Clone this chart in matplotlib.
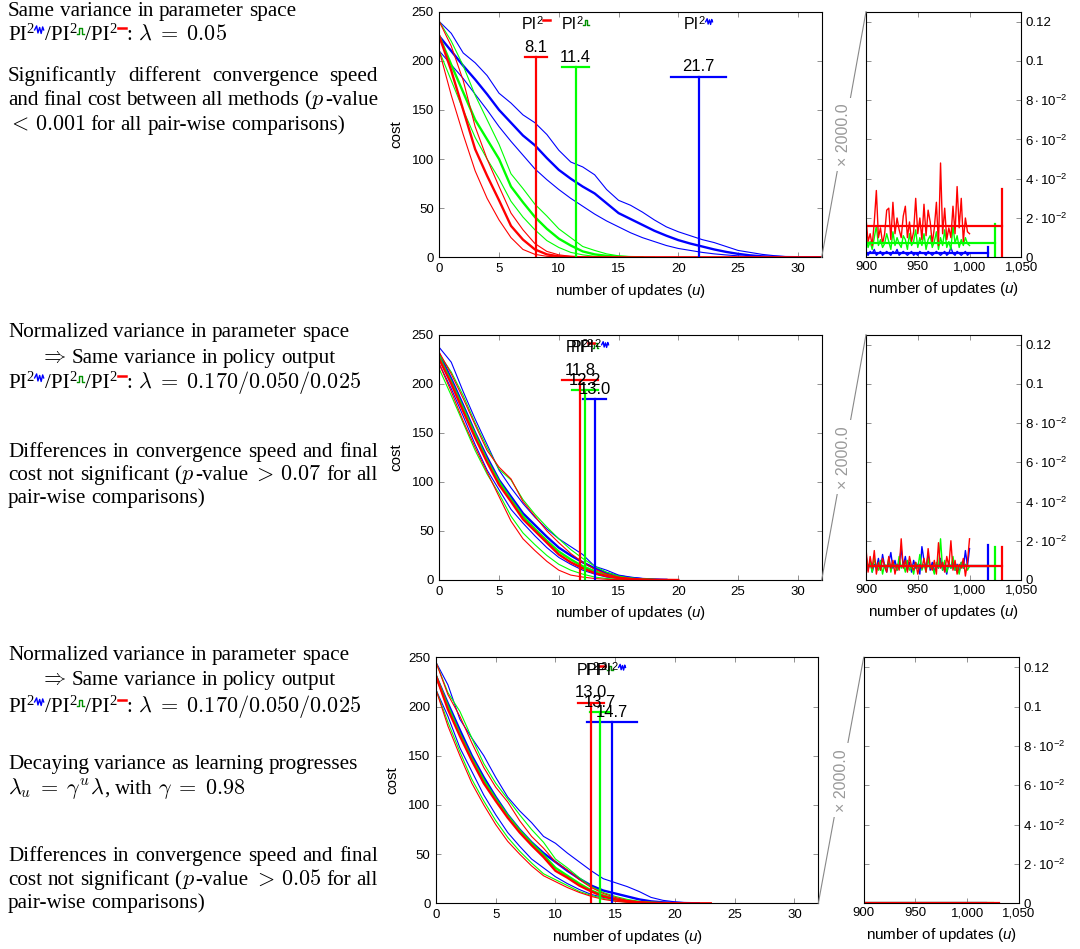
import numpy as np
import matplotlib
matplotlib.use('Agg')
import matplotlib.pyplot as plt
from matplotlib.transforms import IdentityTransform
from matplotlib.lines import Line2D

plt.rcParams['font.family'] = 'Liberation Sans'
plt.rcParams['mathtext.fontset'] = 'custom'
plt.rcParams['mathtext.rm'] = 'Liberation Sans'
plt.rcParams['mathtext.it'] = 'Liberation Sans:italic'

# ---------------- data ----------------
# learning curves, cost per update u = 0, 1, 2, ...
# row 1: same variance in parameter space
c1_blue_lo = [210, 196, 182, 166, 150, 133, 118, 104, 90, 79, 69, 60, 52, 44, 37, 31, 25, 20, 16, 12, 9, 7, 5, 3.5, 2.4, 1.5, 0.8, 0.4, 0.2, 0.1, 0, 0, 0]
c1_blue_md = [225, 210, 195, 181, 166, 150, 137, 124, 114, 101, 89, 80, 72, 65, 55, 45, 39, 33, 27, 22, 17.5, 14, 11, 8, 5.5, 3.5, 2, 1, 0.5, 0.2, 0.1, 0, 0]
c1_blue_hi = [240, 228, 208, 198, 185, 167, 157, 145, 137, 125, 109, 97, 92, 84, 69, 58, 53, 46, 38, 31, 26, 22, 18, 15, 11, 7, 5, 3, 1.7, 0.7, 0.3, 0, 0]
c1_green_lo = [210, 180, 150, 122, 100, 80, 57, 41, 28, 17, 10, 5, 2.5, 1, 0.4, 0, 0]
c1_green_md = [225, 196, 168, 140, 120, 100, 72, 56, 41, 29, 19, 12, 6, 3, 1.5, 0.6, 0.2, 0]
c1_green_hi = [240, 220, 195, 165, 140, 115, 85, 70, 54, 42, 29, 20, 11, 7, 3.5, 1.5, 0.6, 0.2, 0]
c1_red_lo = [210, 165, 125, 88, 60, 38, 20, 8, 3, 1, 0.3, 0, 0]
c1_red_md = [225, 190, 150, 110, 83, 58, 32, 18, 8, 3, 1, 0.4, 0, 0, 0, 0, 0, 0, 0, 0, 0, 0, 0, 0, 0, 0, 0, 0, 0, 0, 0, 0, 0]
c1_red_hi = [240, 215, 180, 133, 100, 72, 45, 28, 14, 6, 2.5, 1, 0.4, 0]

# row 2: normalized variance
c2_blue_lo = [220, 195, 167, 138, 112, 92, 72, 58, 45, 33, 23, 16, 10, 6, 3, 1.5, 0.7, 0.3, 0.1, 0]
c2_blue_md = [230, 205, 178, 150, 125, 102, 85, 68, 56, 44, 33, 25, 18, 12, 7, 4, 2, 1, 0.5, 0.2]
c2_blue_hi = [237, 222, 192, 164, 138, 112, 94, 78, 64, 52, 42, 34, 26, 14, 10, 5, 3, 1.5, 0.7, 0.2]
c2_green_lo = [215, 188, 160, 132, 108, 88, 65, 48, 36, 25, 16, 10, 6, 3, 1.5, 0.7, 0.3, 0.1, 0]
c2_green_md = [227, 202, 175, 148, 122, 100, 82, 65, 52, 40, 29, 21, 14, 9, 5, 2.5, 1.2, 0.5, 0.2]
c2_green_hi = [230, 212, 188, 160, 135, 113, 102, 82, 67, 54, 42, 31, 22, 14, 8, 4, 2, 1, 0.4]
c2_red_lo = [220, 192, 162, 135, 110, 85, 60, 42, 30, 19, 10, 5, 3, 1.5, 0.7, 0.3, 0.1, 0]
c2_red_md = [225, 200, 172, 145, 120, 97, 80, 62, 50, 38, 26, 18, 12, 7, 4, 2, 1, 0.5, 0.2, 0.1, 0]
c2_red_hi = [232, 210, 185, 158, 132, 115, 103, 80, 65, 50, 38, 27, 18, 11, 6, 3, 1.5, 0.7, 0.3, 0.1]

# row 3: normalized + decaying variance
c3_blue_lo = [217, 190, 158, 134, 110, 90, 72, 58, 45, 36, 27, 20, 14, 9, 6, 4, 2.5, 1.5, 0.8, 0.3, 0.1, 0]
c3_blue_md = [231, 203, 176, 150, 128, 108, 90, 75, 62, 51, 42, 33, 25, 18, 13, 10, 7, 4, 2, 1, 0.5, 0.2, 0]
c3_blue_hi = [245, 222, 187, 168, 150, 128, 108, 94, 82, 68, 61, 51, 42, 33, 25, 21, 17, 12, 6, 3, 1.5, 0.5, 0.2]
c3_green_lo = [217, 184, 154, 126, 104, 84, 67, 53, 41, 30, 24, 18, 12, 8, 5, 2.5, 1.2, 0.5, 0.2, 0.1, 0]
c3_green_md = [231, 200, 172, 147, 125, 106, 89, 74, 61, 49, 36, 28, 20, 13, 8, 4.5, 2.5, 1.2, 0.5, 0.2, 0.1]
c3_green_hi = [245, 214, 195, 168, 142, 122, 106, 90, 75, 62, 45, 36, 26, 17, 11, 7, 4, 2, 1, 0.4, 0.1]
c3_red_lo = [217, 180, 150, 122, 100, 80, 63, 50, 38, 28, 22, 16, 11, 7, 4, 2, 1, 0.5, 0.2, 0.1, 0]
c3_red_md = [231, 197, 170, 145, 122, 104, 87, 72, 59, 47, 33, 26, 18, 12, 7, 4, 2, 1, 0.5, 0.2, 0.1, 0, 0, 0]
c3_red_hi = [245, 212, 190, 163, 138, 118, 103, 84, 68, 56, 42, 34, 24, 16, 10, 6, 3, 1.5, 0.7, 0.3, 0.1, 0]

# updates until convergence (mean, spread), order: blue, green, red
conv1 = [21.7, 11.4, 8.1]
conv1_sd = [2.3, 1.1, 0.9]
conv2 = [13.0, 12.2, 11.8]
conv2_sd = [0.95, 1.1, 1.5]
conv3 = [14.7, 13.7, 13.0]
conv3_sd = [2.1, 0.8, 1.1]

# final cost, updates 900..1000 (every 2nd update)
f1_blue = [0.002, 0.001, 0.003, 0.002, 0.004, 0.001, 0.002, 0.003, 0.001, 0.002,
           0.003, 0.002, 0.001, 0.003, 0.002, 0.004, 0.001, 0.002, 0.003, 0.002,
           0.001, 0.002, 0.003, 0.001, 0.002, 0.001, 0.003, 0.002, 0.002, 0.001,
           0.003, 0.002, 0.001, 0.002, 0.003, 0.002, 0.001, 0.002, 0.003, 0.001,
           0.002, 0.005, 0.002, 0.001, 0.003, 0.002, 0.001, 0.002, 0.003, 0.001, 0.002]
f1_green = [0.011, 0.005, 0.008, 0.004, 0.010, 0.016, 0.006, 0.009, 0.005, 0.007,
            0.012, 0.008, 0.004, 0.013, 0.006, 0.010, 0.007, 0.005, 0.011, 0.009,
            0.004, 0.012, 0.006, 0.008, 0.014, 0.005, 0.010, 0.006, 0.012, 0.004,
            0.009, 0.011, 0.005, 0.008, 0.013, 0.004, 0.010, 0.006, 0.014, 0.005,
            0.008, 0.004, 0.016, 0.007, 0.011, 0.005, 0.009, 0.006, 0.010, 0.007, 0.006]
f1_red = [0.020, 0.008, 0.012, 0.006, 0.018, 0.034, 0.010, 0.015, 0.007, 0.012,
          0.024, 0.025, 0.009, 0.028, 0.012, 0.020, 0.014, 0.010, 0.021, 0.026,
          0.010, 0.018, 0.008, 0.013, 0.030, 0.012, 0.020, 0.009, 0.027, 0.011,
          0.024, 0.018, 0.007, 0.015, 0.028, 0.006, 0.048, 0.012, 0.025, 0.009,
          0.015, 0.010, 0.026, 0.012, 0.036, 0.015, 0.030, 0.008, 0.020, 0.013, 0.012]
f2_blue = [0.013, 0.005, 0.010, 0.004, 0.008, 0.006, 0.011, 0.005, 0.013, 0.007,
           0.004, 0.009, 0.014, 0.006, 0.010, 0.005, 0.008, 0.016, 0.007, 0.012,
           0.005, 0.009, 0.004, 0.010, 0.006, 0.008, 0.003, 0.017, 0.010, 0.006,
           0.013, 0.005, 0.009, 0.004, 0.008, 0.006, 0.011, 0.005, 0.007, 0.003,
           0.009, 0.006, 0.010, 0.005, 0.008, 0.004, 0.009, 0.006, 0.015, 0.007, 0.016]
f2_green = [0.012, 0.006, 0.009, 0.004, 0.011, 0.007, 0.005, 0.010, 0.003, 0.008,
            0.006, 0.011, 0.004, 0.009, 0.007, 0.005, 0.012, 0.006, 0.008, 0.004,
            0.010, 0.005, 0.007, 0.003, 0.009, 0.006, 0.013, 0.005, 0.008, 0.004,
            0.011, 0.006, 0.007, 0.003, 0.009, 0.006, 0.021, 0.005, 0.010, 0.004,
            0.008, 0.006, 0.012, 0.005, 0.007, 0.003, 0.009, 0.006, 0.008, 0.005, 0.007]
f2_red = [0.016, 0.004, 0.012, 0.006, 0.015, 0.003, 0.009, 0.005, 0.011, 0.007,
          0.004, 0.012, 0.006, 0.010, 0.003, 0.008, 0.005, 0.021, 0.006, 0.010,
          0.004, 0.012, 0.007, 0.005, 0.009, 0.003, 0.008, 0.006, 0.011, 0.004,
          0.016, 0.007, 0.005, 0.010, 0.003, 0.019, 0.006, 0.009, 0.004, 0.012,
          0.007, 0.020, 0.005, 0.010, 0.003, 0.008, 0.006, 0.011, 0.002, 0.009, 0.021]
f3_flat = [0.0, 0.0]  # row 3: converged to zero everywhere

# mean final cost, marker end (update) and marker height; order blue, green, red
fin1_mean = [0.002, 0.0075, 0.016]
fin1_top = [0.005, 0.017, 0.035]
fin2_mean = [0.007, 0.007, 0.007]
fin2_top = [0.018, 0.017, 0.017]
fin3_mean = [0.0, 0.0, 0.0]
fin3_top = [0.0004, 0.0004, 0.0004]
fin_end = [1018, 1025, 1031]

COLORS = ['#0000ff', '#00ff00', '#ff0000']
NAMES = ['blue', 'green', 'red']
CAP_Y = [184, 194, 204]

# ---------------- figure ----------------
W, H = 1080, 949
fig = plt.figure(figsize=(W / 100, H / 100), dpi=100)
renderer = fig.canvas.get_renderer()
PIX = IdentityTransform()
SERIF = 'Liberation Serif'
SANS = 'Liberation Sans'
TXT = 15.2

# small superscript glyphs for the three PI2 variants (px at 21 px em)
ICONS = {
    'blue': ('#0000ff', [(0, 4), (2, 8), (3.3, 1), (5, 6.5), (6.5, 0.5), (8, 7), (9, 4)], 9, 1.0),
    'green': ('#009000', [(0, 0), (2, 0), (2, 6), (5, 6), (5, 0), (7, 0)], 7, 1.0),
    'red': ('#ff0000', [(0, 6), (8, 6)], 8, 1.8),
}


def rich(x, y, words, family=SERIF, size=TXT, width=None, ha='left'):
    """draw a line made of words, each word a list of (kind, text) pieces"""
    em = size * 100 / 72
    k = em / 21
    made = []
    for w in words:
        row = []
        for kind, s in w:
            if kind == 'icon':
                row.append((kind, s, None, ICONS[s][2] * k + 1.5))
                continue
            kw = dict(transform=PIX, fontsize=size, family=family, va='baseline')
            if kind == 'sup':
                kw['fontsize'] = size * 0.7
            if kind == 'math':
                kw['fontsize'] = size * 1.05
                kw['math_fontfamily'] = 'cm'
            t = fig.text(0, 0, s, **kw)
            row.append((kind, s, t, t.get_window_extent(renderer).width))
        made.append(row)
    lens = [sum(p[3] for p in row) for row in made]
    gap = 0.25 * em
    if width is not None and len(made) > 1:
        gap = (width - sum(lens)) / (len(made) - 1)
    if ha == 'center':
        x -= (sum(lens) + gap * (len(made) - 1)) / 2
    for row in made:
        for kind, s, t, wd in row:
            if kind == 'icon':
                color, pts, iw, lw = ICONS[s]
                xs = [x + 0.5 + px * k for px, py in pts]
                ys = [y + 6 * k + py * k for px, py in pts]
                fig.add_artist(Line2D(xs, ys, transform=PIX, color=color, lw=lw))
            else:
                t.set_position((x, y + (0.34 * em if kind == 'sup' else 0)))
            x += wd
        x += gap


def plain(s):
    return [[('rm', w)] for w in s.split()]


PIW = [('rm', 'PI'), ('sup', '2'), ('icon', 'blue'), ('rm', '/PI'), ('sup', '2'), ('icon', 'green'),
       ('rm', '/PI'), ('sup', '2'), ('icon', 'red'), ('rm', ':')]
ARROW = [[('math', r'$\Rightarrow$')]] + plain('Same variance in policy output')
LAM3 = [PIW, [('math', r'$\lambda\;=\;0.170/0.050/0.025$')]]
PVAL = [('rm', '('), ('math', '$p$'), ('rm', '-value')]

left_text = [
    (8, 16, plain('Same variance in parameter space'), None),
    (8, 40, [PIW, [('math', r'$\lambda\;=\;0.05$')]], None),
    (8, 81, plain('Significantly different convergence speed'), 370),
    (8, 105, plain('and final cost between all methods') + [PVAL], 370),
    (8, 130, [[('math', r'$<$')], [('math', r'$0.001$')]] + plain('for all pair-wise comparisons)'), None),

    (8, 337, plain('Normalized variance in parameter space'), None),
    (40, 363, ARROW, None),
    (8, 388, LAM3, None),
    (8, 457, plain('Differences in convergence speed and final'), 370),
    (8, 480, plain('cost not significant') + [PVAL, [('math', r'$>$')], [('math', r'$0.07$')]]
     + plain('for all'), 370),
    (8, 503, plain('pair-wise comparisons)'), None),

    (8, 660, plain('Normalized variance in parameter space'), None),
    (40, 685, ARROW, None),
    (8, 712, LAM3, None),
    (8, 769, plain('Decaying variance as learning progresses'), None),
    (8, 794, [[('math', r'$\lambda_u\;=\;\gamma^u\lambda$'), ('rm', ',')]] + plain('with')
     + [[('math', r'$\gamma\;=\;0.98$')]], None),
    (8, 861, plain('Differences in convergence speed and final'), 370),
    (8, 885, plain('cost not significant') + [PVAL, [('math', r'$>$')], [('math', r'$0.05$')]]
     + plain('for all'), 370),
    (8, 908, plain('pair-wise comparisons)'), None),
]
for x, y, words, width in left_text:
    rich(x, H - y, words, width=width)


def box(l, t, r, b):
    return [l / W, 1 - b / H, (r - l) / W, (b - t) / H]


rows = [
    (box(439.3, 11.7, 821.7, 257.3), box(866, 11.7, 1021.3, 257.3),
     [c1_blue_lo, c1_blue_md, c1_blue_hi], [c1_green_lo, c1_green_md, c1_green_hi],
     [c1_red_lo, c1_red_md, c1_red_hi], conv1, conv1_sd,
     [f1_blue, f1_green, f1_red], fin1_mean, fin1_top),
    (box(439.3, 334.7, 821.7, 580), box(866, 334.7, 1021.3, 580),
     [c2_blue_lo, c2_blue_md, c2_blue_hi], [c2_green_lo, c2_green_md, c2_green_hi],
     [c2_red_lo, c2_red_md, c2_red_hi], conv2, conv2_sd,
     [f2_blue, f2_green, f2_red], fin2_mean, fin2_top),
    (box(436, 657.3, 818.3, 903.3), box(863.7, 657.3, 1019, 903.3),
     [c3_blue_lo, c3_blue_md, c3_blue_hi], [c3_green_lo, c3_green_md, c3_green_hi],
     [c3_red_lo, c3_red_md, c3_red_hi], conv3, conv3_sd,
     [f3_flat, f3_flat, f3_flat], fin3_mean, fin3_top),
]

yticks_small = [0, 0.02, 0.04, 0.06, 0.08, 0.10, 0.12]
ylabels_small = ['0', r'$2\cdot10^{-2}$', r'$4\cdot10^{-2}$', r'$6\cdot10^{-2}$',
                 r'$8\cdot10^{-2}$', '0.1', '0.12']

for mbox, sbox, blue, green, red, conv, conv_sd, fin, fin_mean, fin_top in rows:
    ax = fig.add_axes(mbox)
    for curves, c in zip([blue, green, red], COLORS):
        for j, cv in enumerate(curves):
            ax.plot(np.arange(len(cv)), cv, color=c, lw=1.7 if j == 1 else 0.8)
    for v, sd, c, yc, name in zip(conv, conv_sd, COLORS, CAP_Y, NAMES):
        ax.plot([v, v], [0, yc], color=c, lw=1.6)
        ax.plot([v - sd, v + sd], [yc, yc], color=c, lw=1.6)
        ax.annotate(f'{v:.1f}', (v, yc), xytext=(0, 1.5), textcoords='offset points',
                    ha='center', va='bottom', fontsize=12)
    ax.set_xlim(0, 32)
    ax.set_ylim(0, 250)
    ax.set_xticks([0, 5, 10, 15, 20, 25, 30])
    ax.set_yticks([0, 50, 100, 150, 200, 250])
    ax.tick_params(direction='in', length=3.5, width=0.6, color='#808080',
                   top=True, right=True, labelsize=9.5, pad=4)
    ax.set_xlabel('number of updates ($u$)', fontsize=11, labelpad=5)
    ax.set_ylabel('cost', fontsize=11, labelpad=6)
    for v, name in zip(conv, NAMES):
        px, py = ax.transData.transform((v, 232))
        rich(px, py, [[('rm', 'PI'), ('sup', '2'), ('icon', name)]], family=SANS, size=11.5, ha='center')

    axz = fig.add_axes(sbox)
    ux = np.linspace(900, 1000, len(fin[0]))
    for f, c in zip(fin, COLORS):
        axz.plot(ux, f, color=c, lw=1.0)
    for m, top, end, c in zip(fin_mean, fin_top, fin_end, COLORS):
        axz.plot([900, end], [m, m], color=c, lw=1.6)
        axz.plot([end, end], [0, top], color=c, lw=1.6)
    axz.set_xlim(900, 1050)
    axz.set_ylim(0, 0.125)
    axz.set_xticks([900, 950, 1000, 1050])
    axz.set_xticklabels(['900', '950', '1,000', '1,050'])
    axz.set_yticks(yticks_small)
    axz.set_yticklabels(ylabels_small)
    axz.tick_params(direction='in', length=3.5, width=0.6, color='#808080', top=True, left=True,
                    right=True, labelleft=False, labelright=True, labelsize=9.5, pad=3)
    axz.set_xlabel('number of updates ($u$)', fontsize=11, labelpad=5)

    # zoom connector with scale factor
    b0, b1 = ax.get_position(), axz.get_position()
    fig.add_artist(Line2D([b0.x1, b1.x0], [b0.y0, b1.y1], transform=fig.transFigure,
                          color='#888888', lw=0.8))
    fig.text((b0.x1 + b1.x0) / 2, (b0.y0 + b1.y1) / 2, '× 2000.0', rotation=90,
             ha='center', va='center', color='#999999', fontsize=11.5,
             bbox=dict(facecolor='white', edgecolor='none', pad=4))

fig.savefig('out.png', dpi=100)
